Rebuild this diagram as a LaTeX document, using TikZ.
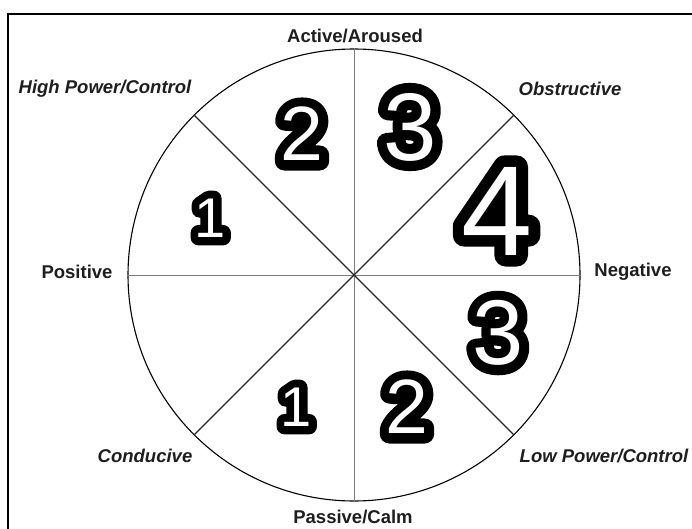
\documentclass[tikz,border=0pt]{standalone}
\usepackage{fontspec}
\setmainfont{Liberation Sans}
\newfontfamily\numface{Liberation Sans}
\newfontfamily\rimsmall[FakeBold=29]{Liberation Sans}
\newfontfamily\rimmedium[FakeBold=25]{Liberation Sans}
\newfontfamily\rimlarge[FakeBold=21]{Liberation Sans}
\newfontfamily\rimhuge[FakeBold=18]{Liberation Sans}
\usetikzlibrary{positioning}
\definecolor{Ink}{HTML}{1E1E1E}
\definecolor{AxisGray}{HTML}{7E7E7E}
\tikzset{
  boxline/.style={draw=black,line width=2.8pt},
  wheel/.style={circle,draw=black,line width=1.1pt,minimum size=452pt,inner sep=0pt},
  spoke/.style={draw=black!85,line width=1.3pt},
  axisline/.style={draw=AxisGray,line width=1pt},
  dimlab/.style={font=\bfseries\fontsize{18.5}{20}\selectfont,text=Ink,inner sep=0pt},
  apprlab/.style={font=\bfseries\itshape\fontsize{18.5}{20}\selectfont,text=Ink,inner sep=0pt},
  rimS/.style={font=\rimsmall\fontsize{#1}{#1}\selectfont,text=black,inner sep=0pt,line join=round},
  rimM/.style={font=\rimmedium\fontsize{#1}{#1}\selectfont,text=black,inner sep=0pt,line join=round},
  rimL/.style={font=\rimlarge\fontsize{#1}{#1}\selectfont,text=black,inner sep=0pt,line join=round},
  rimXL/.style={font=\rimhuge\fontsize{#1}{#1}\selectfont,text=black,inner sep=0pt,line join=round},
  numwhite/.style={font=\numface\fontsize{#1}{#1}\selectfont,text=white,inner sep=0pt},
}

\begin{document}
\begin{tikzpicture}[x=1pt,y=-1pt]
  \useasboundingbox (0,0) rectangle (692,529);
  \draw[boxline] (8,529) -- (8,14) -- (692,14);

  \node[wheel] (wheel) at (354,275) {};
  \draw[axisline] (wheel.north) -- (wheel.south);
  \draw[axisline] (wheel.west) -- (wheel.east);
  \draw[spoke] (wheel.45) -- (wheel.225);
  \draw[spoke] (wheel.135) -- (wheel.315);

  \node[dimlab] (active) at (355,36) {Active/Aroused};
  \node[dimlab] (passive) at (353,517) {Passive/Calm};
  \node[dimlab] (positive) at (77,272) {Positive};
  \node[dimlab] (negative) at (633,272) {Negative};
  \node[apprlab] (highpow) at (105,89) {High Power/Control};
  \node[apprlab] (obstruct) at (570,89) {Obstructive};
  \node[apprlab] (conducive) at (145,456) {Conducive};
  \node[apprlab] (lowpow) at (604,456) {Low Power/Control};

  % intensity numbers: thick black rim, white digit on top
  \foreach \nm/\px/\py/\sz/\rim/\dg in {oneup/210/218/56/rimS/1, twoup/302/134/77/rimM/2,
      threeup/410/127/96/rimL/3, four/497/211/128/rimXL/4, threelow/498/333/92/rimL/3,
      onelow/296/407/56/rimS/1, twolow/407/407/77/rimM/2}{
    \node[\rim=\sz] (\nm rim) at (\px,\py) {\dg};
    \node[numwhite=\sz] (\nm) at (\px,\py) {\dg};
  }
\end{tikzpicture}
\end{document}
